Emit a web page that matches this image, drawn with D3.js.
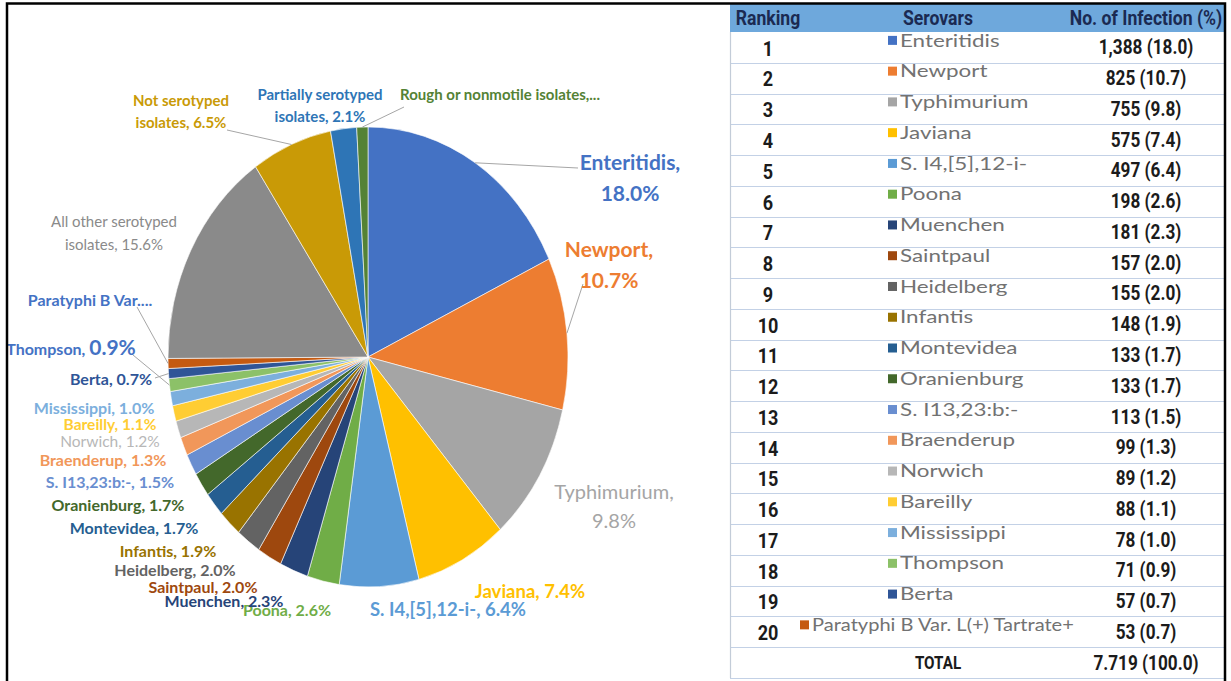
<!DOCTYPE html>
<html>
<head>
<meta charset="utf-8">
<script src="https://cdn.jsdelivr.net/npm/d3@7"></script>
<style>
  body { margin: 0; background: #fff; }
  svg { display: block; }
</style>
</head>
<body>
<svg id="chart" width="1231" height="681"></svg>
<script>
// ---- Data ----------------------------------------------------------------
const serovars = [
  "Enteritidis", "Newport", "Typhimurium", "Javiana", "S. I4,[5],12-i-",
  "Poona", "Muenchen", "Saintpaul", "Heidelberg", "Infantis",
  "Montevidea", "Oranienburg", "S. I13,23:b:-", "Braenderup", "Norwich",
  "Bareilly", "Mississippi", "Thompson", "Berta", "Paratyphi B Var. L(+) Tartrate+"
];
const infections = [1388, 825, 755, 575, 497, 198, 181, 157, 155, 148,
                    133, 133, 113, 99, 89, 88, 78, 71, 57, 53];
const infectionPct = [18.0, 10.7, 9.8, 7.4, 6.4, 2.6, 2.3, 2.0, 2.0, 1.9,
                      1.7, 1.7, 1.5, 1.3, 1.2, 1.1, 1.0, 0.9, 0.7, 0.7];
const otherGroups = ["All other serotyped isolates", "Not serotyped isolates",
                     "Partially serotyped isolates", "Rough or nonmotile isolates"];
const otherPct = [15.6, 6.5, 2.1, 0.9];
const totalInfections = 7719;
const totalPct = 100.0;
const tableHeaders = ["Ranking", "Serovars", "No. of Infection (%)"];
const totalLabel = "TOTAL";

// ---- Styling ---------------------------------------------------------------
const sliceColors = [
  "#4472C4", "#ED7D31", "#A5A5A5", "#FFC000", "#5B9BD5", "#70AD47",
  "#264478", "#9E480E", "#636363", "#997300", "#255E91", "#43682B",
  "#698ED0", "#F1975A", "#B7B7B7", "#FFCD33", "#7CAFDD", "#8CC168",
  "#2F5597", "#C55A11", "#8A8A8A", "#C99A06", "#2E75B6", "#548235"
];
const labelFont = "Lato, 'Open Sans', sans-serif";
const tableNumFont = "Roboto, 'Liberation Sans', sans-serif";

// Placement of each slice label, relative to the pie centre (px).
// wrap: max line width; leader: end point of the leader line; cut: truncate label.
const labelLayout = [
  { dx: 262, dy: -179, size: 21, wrap: 100, leader: [210, -189] },
  { dx: 241, dy: -92,  size: 21, wrap: 90,  leader: [215, -73] },
  { dx: 246, dy: 149,  size: 20, wrap: 130, weight: 400 },
  { dx: 162, dy: 235,  size: 18.5 },
  { dx: 80,  dy: 253,  size: 18.5 },
  { dx: -81, dy: 253,  size: 16 },
  { dx: -144, dy: 244, size: 16 },
  { dx: -165, dy: 230, size: 16 },
  { dx: -193, dy: 213, size: 16 },
  { dx: -200, dy: 194, size: 16 },
  { dx: -234, dy: 171, size: 16 },
  { dx: -250, dy: 148, size: 16 },
  { dx: -258, dy: 125, size: 16 },
  { dx: -265, dy: 103, size: 16 },
  { dx: -258, dy: 85,  size: 15.5, weight: 400 },
  { dx: -258, dy: 68,  size: 15.5 },
  { dx: -274, dy: 51,  size: 16 },
  { dx: -297, dy: -8,  size: 16, pctSize: 21, color: "#4472C4", leader: [-235, -2] },
  { dx: -257, dy: 22,  size: 16, leader: [-213, 21] },
  { dx: -278, dy: -57, size: 16, cut: 16, color: "#4472C4", leader: [-231, -50] },
  { dx: -254, dy: -124, size: 15, wrap: 135, weight: 400, lineGap: 23 },
  { dx: -187, dy: -245, size: 15, wrap: 100, lineGap: 22, leader: [-141, -227] },
  { dx: -48,  dy: -251, size: 15, wrap: 130, lineGap: 22 },
  { dx: 132,  dy: -262, size: 15, cut: 28, leader: [36, -250] }
];

const svg = d3.select("#chart");

// ---- Pie -------------------------------------------------------------------
const slices = serovars.map((name, i) => ({ name, pct: infectionPct[i] }))
  .concat(otherGroups.map((name, i) => ({ name, pct: otherPct[i] })));

const cx = 368, cy = 357, rx = 200, ry = 230;
const yScale = ry / rx;

const pie = d3.pie().sort(null).value(d => d.pct);
const arcs = pie(slices);
const arc = d3.arc().innerRadius(0).outerRadius(rx);

const pieG = svg.append("g")
  .attr("transform", `translate(${cx},${cy}) scale(1,${yScale})`);

pieG.selectAll("path.slice")
  .data(arcs)
  .join("path")
  .attr("class", "slice")
  .attr("d", arc)
  .attr("fill", (d, i) => sliceColors[i])
  .attr("stroke", "#fff")
  .attr("stroke-width", 0.6)
  .attr("vector-effect", "non-scaling-stroke");

// point on the (stretched) rim at the middle of a slice
function rimPoint(d) {
  const a = (d.startAngle + d.endAngle) / 2;
  return [cx + rx * Math.sin(a), cy - ry * Math.cos(a)];
}

// Leader lines
const leaderG = svg.append("g");
arcs.forEach((d, i) => {
  const L = labelLayout[i];
  if (!L.leader) return;
  const [x0, y0] = rimPoint(d);
  leaderG.append("line")
    .attr("x1", x0).attr("y1", y0)
    .attr("x2", cx + L.leader[0]).attr("y2", cy + L.leader[1])
    .attr("stroke", "#A6A6A6").attr("stroke-width", 1);
});

// Labels
const labelG = svg.append("g").attr("font-family", labelFont);
arcs.forEach((d, i) => {
  const L = labelLayout[i];
  const pctText = d.data.pct.toFixed(1) + "%";
  const full = d.data.name + ", " + pctText;
  const color = L.color || sliceColors[i];
  const t = labelG.append("text")
    .attr("text-anchor", "middle")
    .attr("fill", color)
    .attr("font-size", L.size)
    .attr("font-weight", L.weight || 700);

  if (L.cut) {
    t.attr("x", cx + L.dx).attr("y", cy + L.dy).attr("dy", "0.35em")
      .text(full.slice(0, L.cut) + "...");
    return;
  }
  if (L.pctSize) {
    t.attr("x", cx + L.dx).attr("y", cy + L.dy).attr("dy", "0.35em");
    t.append("tspan").text(d.data.name + ", ");
    t.append("tspan").attr("font-size", L.pctSize).text(pctText);
    return;
  }
  // greedy word wrap
  const words = full.split(" ");
  const lines = [];
  let cur = "";
  const probe = labelG.append("text")
    .attr("font-size", L.size).attr("font-weight", L.weight || 700);
  words.forEach(w => {
    const test = cur ? cur + " " + w : w;
    probe.text(test);
    if (L.wrap && cur && probe.node().getComputedTextLength() > L.wrap) {
      lines.push(cur);
      cur = w;
    } else cur = test;
  });
  lines.push(cur);
  probe.remove();
  const gap = L.lineGap || L.size * 1.45;
  const y0 = cy + L.dy - gap * (lines.length - 1) / 2;
  lines.forEach((ln, k) => {
    t.append("tspan")
      .attr("x", cx + L.dx)
      .attr("y", y0 + k * gap)
      .attr("dy", "0.35em")
      .text(ln);
  });
});

// ---- Table -----------------------------------------------------------------
const tLeft = 730, tRight = 1225, headTop = 4, headBottom = 32, tBottom = 678;
const rowIds = d3.range(serovars.length + 1);
const rowBand = d3.scaleBand().domain(rowIds).range([headBottom, tBottom]);
const colX = { rank: 768, sero: 888, seroMin: 800, seroMax: 1075, value: 1146, total: 938 };

svg.append("clipPath").attr("id", "tableClip")
  .append("rect").attr("x", tLeft - 2).attr("y", 0)
  .attr("width", tRight - tLeft + 1).attr("height", 681);

const tableG = svg.append("g").attr("clip-path", "url(#tableClip)");

tableG.append("rect")
  .attr("x", tLeft).attr("y", headTop)
  .attr("width", tRight - tLeft + 5).attr("height", headBottom - headTop)
  .attr("fill", "#6EA8DC");

// horizontal rules
const rules = rowIds.map(r => rowBand(r)).concat([tBottom]);
tableG.selectAll("line.rule")
  .data(rules.slice(1))
  .join("line")
  .attr("class", "rule")
  .attr("x1", tLeft).attr("x2", tRight + 5)
  .attr("y1", d => Math.round(d) + 0.5).attr("y2", d => Math.round(d) + 0.5)
  .attr("stroke", "#C3D1E6").attr("stroke-width", 1.2);

tableG.append("line")
  .attr("x1", tLeft + 0.5).attr("x2", tLeft + 0.5)
  .attr("y1", headBottom).attr("y2", tBottom)
  .attr("stroke", "#C3CCD8").attr("stroke-width", 1.2);

// condensed bold text: a horizontally squeezed Roboto
function narrowText(parent, x, y, str, size, fill, sx) {
  parent.append("g")
    .attr("transform", `translate(${x},${y}) scale(${sx},1)`)
    .append("text")
    .attr("text-anchor", "middle").attr("dy", "0.35em")
    .attr("font-family", tableNumFont).attr("font-weight", 700)
    .attr("font-size", size).attr("fill", fill)
    .text(str);
}

// header text
const headY = (headTop + headBottom) / 2;
[colX.rank, colX.total, colX.value].forEach((x, i) => {
  narrowText(tableG, x, headY, tableHeaders[i], 20.5, "#1B2A52", 0.86);
});

const fmtCount = d3.format(",");
const fmtTotal = d3.formatLocale({ decimal: ",", thousands: ".", grouping: [3], currency: ["", ""] }).format(",");

const rowsG = tableG.append("g");
const seroStretch = 1.28;
serovars.forEach((name, i) => {
  const yc = rowBand(i) + rowBand.bandwidth() / 2;
  narrowText(rowsG, colX.rank, yc + 1, String(i + 1), 21, "#1b1b1b", 0.86);

  // serovar name with its colour key
  const g = rowsG.append("g");
  const ty = yc - 7;
  const holder = g.append("g");
  const txt = holder.append("text")
    .attr("dy", "0.35em")
    .attr("font-family", labelFont).attr("font-size", 17.5)
    .attr("fill", "#727272")
    .text(name);
  const w = txt.node().getComputedTextLength();
  let x0 = colX.sero, sx = seroStretch;
  if (x0 + 11 + w * sx > colX.seroMax) {
    x0 = colX.seroMin;
    sx = Math.min(seroStretch, (colX.seroMax - x0 - 13) / w);
  }
  g.append("rect")
    .attr("x", x0).attr("y", ty - 4.5)
    .attr("width", 9).attr("height", 9)
    .attr("fill", sliceColors[i]);
  holder.attr("transform", `translate(${x0 + 12},${ty}) scale(${sx},1)`);

  narrowText(rowsG, colX.value, yc, `${fmtCount(infections[i])} (${infectionPct[i].toFixed(1)})`,
             20, "#1b1b1b", 0.86);
});

const lastRow = serovars.length;
const ycT = rowBand(lastRow) + rowBand.bandwidth() / 2;
narrowText(rowsG, colX.total, ycT, totalLabel, 19, "#1b1b1b", 0.8);
narrowText(rowsG, colX.value, ycT, `${fmtTotal(totalInfections)} (${totalPct.toFixed(1)})`,
           20, "#1b1b1b", 0.86);

// ---- Outer frame -----------------------------------------------------------
svg.append("rect")
  .attr("x", 7).attr("y", 3.5)
  .attr("width", 1218).attr("height", 720)
  .attr("fill", "none").attr("stroke", "#000").attr("stroke-width", 2.5);
</script>
</body>
</html>
